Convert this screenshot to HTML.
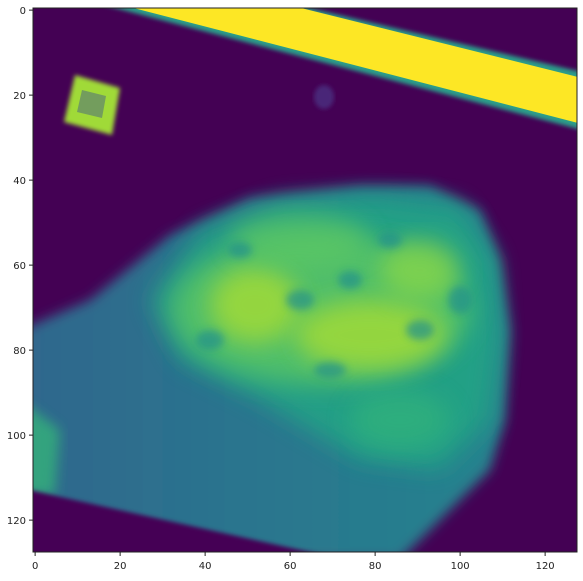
<!DOCTYPE html>
<html><head><meta charset="utf-8"><style>
body{margin:0;background:#fff;}
svg text{font-family:"DejaVu Sans","Liberation Sans",sans-serif;font-size:10px;fill:#222;}
</style></head><body>
<svg id="chart" width="583" height="576">
<defs>
<filter id="b6" x="-20%" y="-20%" width="140%" height="140%"><feGaussianBlur stdDeviation="6"/></filter>
<filter id="b12" x="-30%" y="-30%" width="160%" height="160%"><feGaussianBlur stdDeviation="12"/></filter>
<filter id="b4" x="-30%" y="-30%" width="160%" height="160%"><feGaussianBlur stdDeviation="4"/></filter>
<filter id="b2"><feGaussianBlur stdDeviation="2"/></filter>
<clipPath id="clip"><rect x="33" y="8" width="544" height="544"/></clipPath>
<linearGradient id="bodyg" x1="0" y1="0" x2="1" y2="0">
<stop offset="0" stop-color="#30678d"/><stop offset="0.5" stop-color="#2a768e"/><stop offset="1" stop-color="#25838e"/>
</linearGradient>
</defs>
<g clip-path="url(#clip)">
<rect x="33" y="8" width="544" height="544" fill="#440154"/>
<path filter="url(#b6)" fill="url(#bodyg)"
 d="M20,330 L90,300 L170,235 L250,198 L360,186 L430,186 L480,210 L500,260 L510,330 L505,420 L490,470 L440,520 L400,560 L20,560 Z"/>
<path filter="url(#b12)" fill="#22a884" opacity="0.8"
 d="M150,300 L200,230 L280,200 L380,195 L460,205 L495,260 L500,340 L490,420 L440,470 L360,460 L260,400 L180,360 Z"/>
<ellipse filter="url(#b12)" cx="320" cy="310" rx="150" ry="75" fill="#5ec962" opacity="0.75"/>
<ellipse filter="url(#b12)" cx="255" cy="305" rx="45" ry="38" fill="#a0da39" opacity="0.85"/>
<ellipse filter="url(#b12)" cx="370" cy="335" rx="75" ry="35" fill="#a0da39" opacity="0.85"/>
<ellipse filter="url(#b12)" cx="420" cy="270" rx="40" ry="30" fill="#86d549" opacity="0.8"/>
<ellipse filter="url(#b12)" cx="300" cy="240" rx="70" ry="25" fill="#5ec962" opacity="0.7"/>
<ellipse filter="url(#b12)" cx="400" cy="420" rx="50" ry="30" fill="#35b779" opacity="0.6"/>
<g filter="url(#b4)" fill="#21918c" opacity="0.7">
<ellipse cx="300" cy="300" rx="14" ry="10"/><ellipse cx="350" cy="280" rx="12" ry="9"/>
<ellipse cx="420" cy="330" rx="14" ry="10"/><ellipse cx="240" cy="250" rx="12" ry="8"/>
<ellipse cx="460" cy="300" rx="12" ry="14"/><ellipse cx="330" cy="370" rx="16" ry="8"/>
<ellipse cx="390" cy="240" rx="12" ry="8"/><ellipse cx="210" cy="340" rx="14" ry="10"/>
</g>
<polygon filter="url(#b6)" points="20,400 60,430 55,495 20,495" fill="#35b779" opacity="0.75"/>
<polygon filter="url(#b2)" points="20,488 345,560 20,560" fill="#440154"/>
<polygon filter="url(#b2)" points="100,4 292,4 582,72 582,130" fill="#2a9e8a"/>
<polygon points="118,4 285,4 582,78 582,124" fill="#fde725"/>
<polygon points="75,75 120,88 112,135 64,122" fill="#a0da39" filter="url(#b2)"/>
<polygon points="82,90 106,96 102,118 77,112" fill="#3b528b" opacity="0.45"/>
<ellipse cx="324" cy="97" rx="10" ry="12" fill="#482878" filter="url(#b2)"/>
</g>
<rect x="33" y="8" width="544" height="544" fill="none" stroke="#222" stroke-width="1"/>
<g id="xt"></g>
<g id="yt"></g>
</svg>
<script>
const xTicks=[0,20,40,60,80,100,120];
const yTicks=[0,20,40,60,80,100,120];
const x0=33,y0=8,s=4.25;
const X=v=>x0+(v+0.5)*s, Y=v=>y0+(v+0.5)*s;
const NS="http://www.w3.org/2000/svg";
const xt=document.getElementById('xt'),yt=document.getElementById('yt');
xTicks.forEach(v=>{
 const l=document.createElementNS(NS,'line');
 l.setAttribute('x1',X(v));l.setAttribute('x2',X(v));l.setAttribute('y1',552);l.setAttribute('y2',556);l.setAttribute('stroke','#222');
 
 
 xt.appendChild(l);
 const t=document.createElementNS(NS,'text');
 t.setAttribute('x',X(v));t.setAttribute('y',569);t.setAttribute('text-anchor','middle');t.textContent=v;
 
 
 xt.appendChild(t);
});
yTicks.forEach(v=>{
 const l=document.createElementNS(NS,'line');
 l.setAttribute('x1',29);l.setAttribute('x2',33);l.setAttribute('y1',Y(v));l.setAttribute('y2',Y(v));l.setAttribute('stroke','#222');
 
 
 yt.appendChild(l);
 const t=document.createElementNS(NS,'text');
 t.setAttribute('x',26);t.setAttribute('y',Y(v)+4);t.setAttribute('text-anchor','end');t.textContent=v;
 
 
 yt.appendChild(t);
});
</script>
</body></html>
